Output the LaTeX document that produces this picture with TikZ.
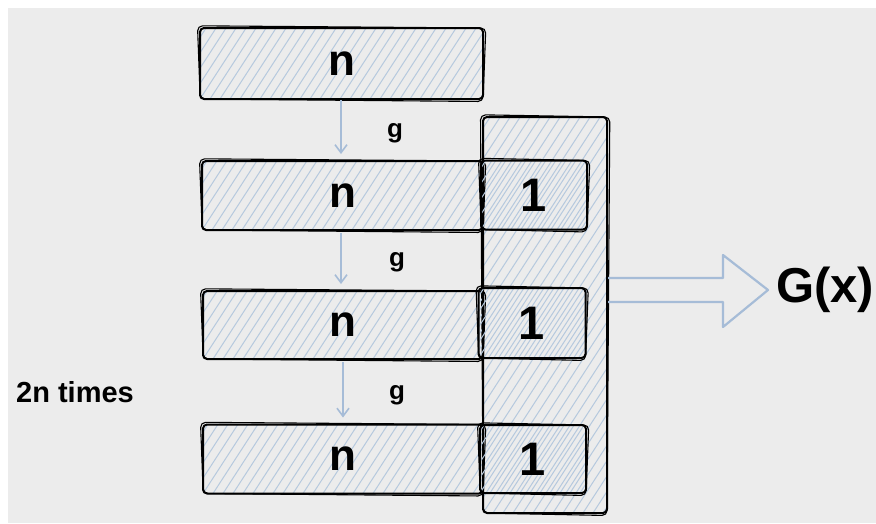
\documentclass[tikz,border=0pt]{standalone}
\usepackage{fontspec}
\setmainfont{Liberation Sans}
\usetikzlibrary{arrows.meta,calc}
\definecolor{bgc}{HTML}{ECECEC}
\definecolor{hachc}{HTML}{B6C9DE}
\definecolor{flowc}{HTML}{A6BCD7}
\tikzset{
  hatched/.style={path picture={
      \foreach \k in {0,...,70}{
        \draw[hachc,line width=1pt]
          ([xshift=\k*10pt-330pt]path picture bounding box.south west) -- ++(57:520pt);}}},
  boxs/.style={draw=black, line width=2pt, rounded corners=4pt, inner sep=0pt, hatched,
      font=\bfseries\fontsize{44}{44}\selectfont},
  onebox/.style={boxs, font=\bfseries\fontsize{47}{47}\selectfont},
  sk/.style={draw=black, line width=1.1pt, rounded corners=5pt},
  flow/.style={draw=flowc, line width=1.8pt, -{Straight Barb[length=8pt,width=12pt,line width=1.6pt]}},
  glab/.style={font=\bfseries\fontsize{26}{26}\selectfont, inner sep=0pt},
  bigarrow/.style={draw=flowc, line width=2.2pt, line join=round},
}
\newcommand\sketchrect[1]{%
  \draw[sk] ([shift={(-1.5pt,1.2pt)}]#1.north west) -- ([shift={(1.8pt,-1pt)}]#1.north east)
     -- ([shift={(-1pt,-1.5pt)}]#1.south east) -- ([shift={(1.2pt,1pt)}]#1.south west) -- cycle;}
\newcommand\lowtxt[1]{\raisebox{-3pt}{#1}}
\begin{document}
\begin{tikzpicture}[x=1pt,y=-1pt]
  \useasboundingbox (0,0) rectangle (876,523);
  \fill[white] (0,0) rectangle (876,523);
  \fill[bgc] (8,8) rectangle (876,523);

  % tall rectangle
  \node[boxs, minimum width=124pt, minimum height=396pt] (tall) at (545,315) {};
  \sketchrect{tall}

  % long boxes
  \node[boxs, minimum width=283pt, minimum height=71pt] (top) at (341.5,63.5) {\lowtxt{n}};
  \node[boxs, minimum width=281pt, minimum height=69pt] (n2) at (342.5,195.5) {\lowtxt{n}};
  \node[boxs, minimum width=280pt, minimum height=68pt] (n3) at (343,325) {\lowtxt{n}};
  \node[boxs, minimum width=280pt, minimum height=69pt] (n4) at (343,459) {\lowtxt{n}};
  \sketchrect{top}\sketchrect{n2}\sketchrect{n3}\sketchrect{n4}

  % small boxes
  \node[onebox, minimum width=106pt, minimum height=69pt] (one2) at (534,195) {\lowtxt{1}};
  \node[onebox, minimum width=107pt, minimum height=70pt] (one3) at (532,323) {\lowtxt{1}};
  \node[onebox, minimum width=106pt, minimum height=68pt] (one4) at (533,459) {\lowtxt{1}};
  \sketchrect{one2}\sketchrect{one3}\sketchrect{one4}

  % flow arrows
  \draw[flow, shorten >=6pt] ([xshift=-0.5pt]top.south) -- ([xshift=-0.5pt]top.south |- n2.north);
  \draw[flow, shorten >=6pt, shorten <=2pt] ([xshift=-1.5pt]n2.south) -- ([xshift=-1.5pt]n2.south |- n3.north);
  \draw[flow, shorten >=6pt, shorten <=2pt] (n3.south) -- (n3.south |- n4.north);
  \node[glab] (g1) at (395,133) {g};
  \node[glab] (g2) at (397,262) {g};
  \node[glab] (g3) at (397,395) {g};

  % big hollow arrow
  \coordinate (ga) at (tall.east |- 0,290);
  \draw[bigarrow] ($(ga)+(0pt,12pt)$) -- ++(115pt,0pt) -- ++(0pt,23pt)
     -- ($(ga)+(160pt,0pt)$) -- ($(ga)+(115pt,-37pt)$) -- ++(0pt,25pt) -- ($(ga)+(0pt,-12pt)$);
  \node[font=\bfseries\fontsize{49}{49}\selectfont, inner sep=0pt] (G) at (825,290) {G(x)};

  \node[font=\bfseries\fontsize{29}{29}\selectfont, inner sep=0pt] (times) at (75,392) {2n times};
\end{tikzpicture}
\end{document}
